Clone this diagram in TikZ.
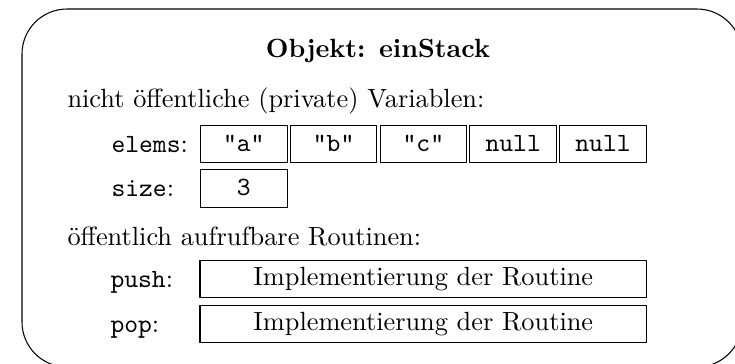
\documentclass[tikz,border=0pt]{standalone}
\usetikzlibrary{positioning}
\tikzset{
	zelle/.style={draw, font=\ttfamily, minimum width=32.9pt, minimum height=14.3pt, inner sep=0pt, text height=1.5ex, text depth=.25ex},
	routine/.style={draw, minimum width=169.7pt, minimum height=14.1pt, inner sep=0pt},
	marke/.style={anchor=base west, inner sep=0pt},
	zeile/.style={anchor=base west, inner sep=0pt}
}
\begin{document}
\begin{tikzpicture}[x=0.38pt, y=-0.38pt, line join=round, line cap=round]
		\def\xmax{735} \def\ymax{363} % Bildgröße in px
		\clip (0,0) rectangle (\xmax,\ymax);
		\draw[rounded corners=17.1pt] (22,9) rectangle (742,367);
		\node[font=\bfseries, anchor=base, inner sep=0pt] (titel) at (378,57) {Objekt: einStack};
		\node[zeile] (privat) at (67,107) {nicht öffentliche (private) Variablen:};
		% Feld elems
		\node[marke] (elems) at (111,152.3) {\texttt{elems}:};
		\node[zelle] (e1) at (243.8,144) {"a"};
		\node[zelle] (e2) at (333.6,144) {"b"};
		\node[zelle] (e3) at (423.4,144) {"c"};
		\node[zelle] (e4) at (513.2,144) {null};
		\node[zelle] (e5) at (603.0,144) {null};
		% Feld size
		\node[marke] (size) at (111,196.7) {\texttt{size}:};
		\node[zelle] (s1) at (243.8,188.5) {3};
		\node[zeile] (oeffentlich) at (67,245) {öffentlich aufrufbare Routinen:};
		% Routinen
		\node[marke] (push) at (110,287) {\texttt{push}:};
		\node[routine] (r1) at (423.3,278.8) {Implementierung der Routine};
		\node[marke] (pop) at (110,332) {\texttt{pop}:};
		\node[routine] (r2) at (423.3,323.8) {Implementierung der Routine};
\end{tikzpicture}
\end{document}
